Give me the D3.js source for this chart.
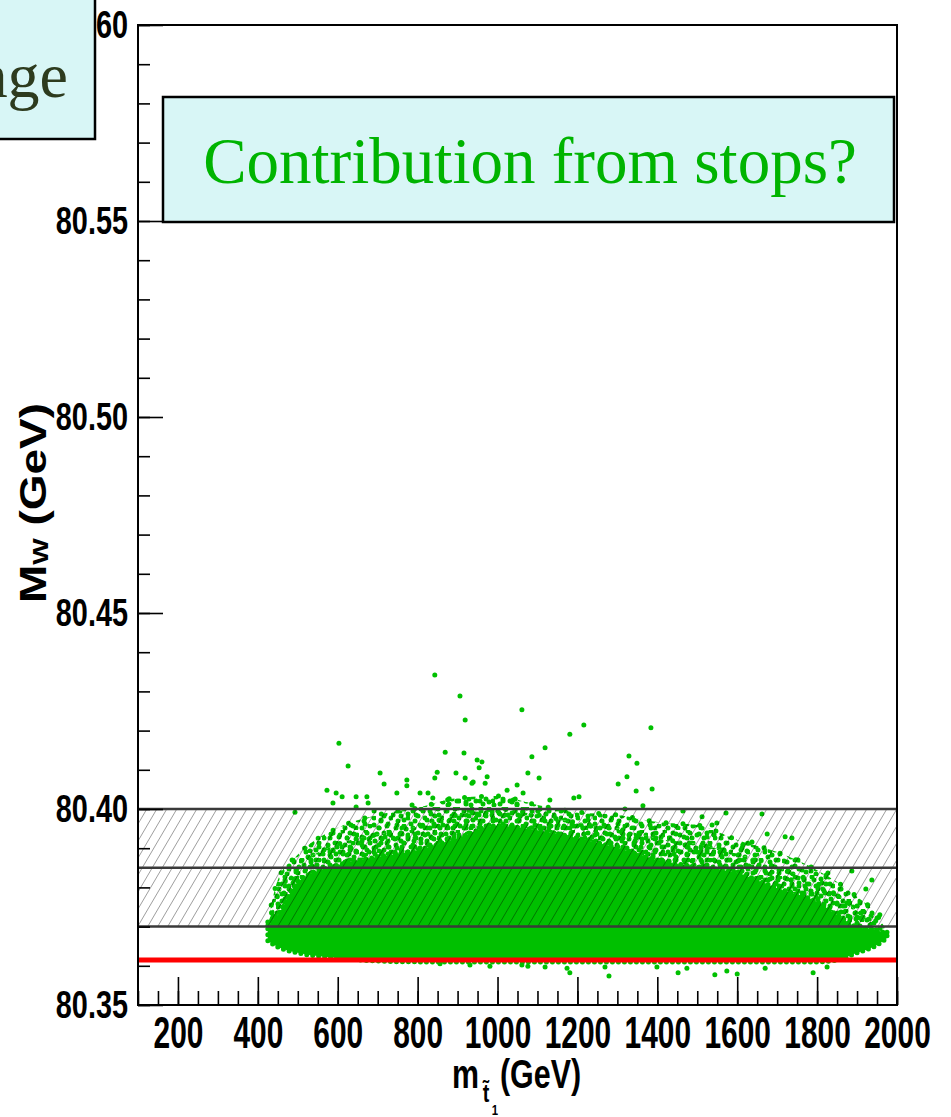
<!DOCTYPE html>
<html>
<head>
<meta charset="utf-8">
<script src="https://cdn.jsdelivr.net/npm/d3@7"></script>
<style>
  body { margin: 0; background: #fff; }
  svg { display: block; }
</style>
</head>
<body>
<svg id="chart" width="951" height="1117"></svg>
<script>
// envelope of the dense point cloud (stop mass in GeV, M_W in GeV)
const envMass  = [425, 450, 500, 600, 700, 800, 900, 1000, 1100, 1200, 1300, 1400, 1500, 1600, 1700, 1800, 1850, 1900, 1950, 1975];
const coreLow  = [80.3663, 80.3648, 80.3633, 80.3620, 80.3612, 80.3610, 80.3610, 80.3610, 80.3610, 80.3610, 80.3610, 80.3610, 80.3610, 80.3610, 80.3610, 80.3610, 80.3615, 80.3633, 80.3653, 80.3671];
const coreHigh = [80.3702, 80.3730, 80.3814, 80.3857, 80.3878, 80.3895, 80.3926, 80.3957, 80.3946, 80.3926, 80.3901, 80.3870, 80.3852, 80.3837, 80.3798, 80.3763, 80.3730, 80.3699, 80.3691, 80.3681];
const haloMid  = [80.3706, 80.3780, 80.3850, 80.3910, 80.3935, 80.3955, 80.3985, 80.4000, 80.3985, 80.3965, 80.3950, 80.3925, 80.3910, 80.3885, 80.3850, 80.3810, 80.3780, 80.3740, 80.3712, 80.3684];
const haloHigh = [80.3712, 80.3819, 80.3883, 80.3952, 80.3985, 80.4003, 80.4028, 80.4033, 80.4010, 80.3992, 80.3985, 80.3967, 80.3959, 80.3921, 80.3890, 80.3844, 80.3814, 80.3776, 80.3730, 80.3686];

// isolated points above the cloud
const outMass = [843, 906, 919, 1061, 1216, 1181, 1384, 1119, 1086, 869, 916, 949, 961, 954, 1329, 1349, 1324, 1347, 1387, 1302,
                 1104, 1076, 1049, 843, 896, 919, 974, 773, 748, 806, 706, 716, 1191, 1204, 1131, 603, 626, 573, 596, 588,
                 611, 646, 673, 676, 773, 826, 849, 936, 879, 786, 838, 493, 646, 691, 1064, 1039, 969, 939, 1024, 1512,
                 1572, 1662, 1537, 1549, 1542, 1614, 1637, 1675, 1720, 1737, 1752, 1827, 1887, 1937, 1922, 1957, 1364, 1464, 1319];
const outMW   = [80.4342, 80.4288, 80.4227, 80.4253, 80.4214, 80.4191, 80.4207, 80.4156, 80.4133, 80.4145, 80.4143, 80.4125, 80.4120, 80.4105, 80.4135, 80.4117, 80.4082, 80.4046, 80.4051, 80.4064,
                 80.4079, 80.4092, 80.4061, 80.4079, 80.4092, 80.4079, 80.4082, 80.4074, 80.4041, 80.4041, 80.4092, 80.4064, 80.4028, 80.4031, 80.4023, 80.4168, 80.4110, 80.4048, 80.4041, 80.4015,
                 80.4031, 80.4031, 80.4031, 80.4015, 80.4059, 80.4041, 80.4094, 80.4066, 80.4026, 80.4010, 80.4028, 80.3992, 80.4005, 80.3995, 80.4041, 80.4023, 80.4066, 80.4069, 80.4048, 80.3980,
                 80.3990, 80.3987, 80.3959, 80.3964, 80.3934, 80.3908, 80.3916, 80.3936, 80.3929, 80.3926, 80.3870, 80.3837, 80.3842, 80.3819, 80.3796, 80.3730, 80.4008, 80.3995, 80.4000];

// isolated points below the SM line
const lowMass = [1061, 1076, 1119, 1174, 1181, 1279, 1269, 1399, 1452, 1474, 1544, 1574, 1600, 1670, 1790, 1825, 981, 931, 856];
const lowMW   = [80.3602, 80.3599, 80.3597, 80.3594, 80.3582, 80.3574, 80.3597, 80.3597, 80.3582, 80.3594, 80.3577, 80.3587, 80.3579, 80.3594, 80.3582, 80.3597, 80.3599, 80.3602, 80.3605];

const bandLines = [80.370, 80.385, 80.400];
const bandLow = 80.370, bandHigh = 80.400;
const smValue = 80.3615;

const xMajor = [200, 400, 600, 800, 1000, 1200, 1400, 1600, 1800, 2000];
const yMajor = [80.35, 80.40, 80.45, 80.50, 80.55, 80.60];

const green = "#00c000";
const svg = d3.select("#chart");
const margin = { top: 25, left: 138, right: 54, bottom: 112 };
const width = 951 - margin.left - margin.right;
const height = 1117 - margin.top - margin.bottom;

const x = d3.scaleLinear().domain([100, 2000]).range([0, width]);
const y = d3.scaleLinear().domain([80.35, 80.60]).range([height, 0]);

const defs = svg.append("defs");
defs.append("clipPath").attr("id", "plotClip")
  .append("rect").attr("width", width).attr("height", height);

const hatch = defs.append("pattern").attr("id", "hatch")
  .attr("patternUnits", "userSpaceOnUse").attr("width", 10).attr("height", 17);
hatch.append("path")
  .attr("d", "M-5,8.5L5,-8.5M0,17L10,0M5,25.5L15,8.5")
  .attr("stroke", "rgba(0,0,0,0.38)").attr("stroke-width", 1);

// speckle textures for the medium density part of the cloud
function speckle(id, size, dots) {
  const p = defs.append("pattern").attr("id", id)
    .attr("patternUnits", "userSpaceOnUse").attr("width", size).attr("height", size);
  dots.forEach(d => p.append("circle").attr("cx", d[0]).attr("cy", d[1]).attr("r", 2.5).attr("fill", green));
}
speckle("speckA", 17, [[3, 4], [11, 2], [8, 9], [15, 11], [5, 14]]);
speckle("speckB", 23, [[2, 8], [9, 4], [17, 7], [13, 13], [6, 18], [20, 17], [21, 1], [11, 21]]);
speckle("speckC", 13, [[4, 3], [10, 8], [3, 10]]);

const g = svg.append("g").attr("transform", `translate(${margin.left},${margin.top})`);
const plot = g.append("g").attr("clip-path", "url(#plotClip)");

const idx = envMass.map((d, i) => i);
const band = (lo, hi) => d3.area().curve(d3.curveMonotoneX)
  .x(i => x(envMass[i])).y0(i => y(lo[i])).y1(i => y(hi[i]));
const outerHalo = band(haloMid, haloHigh);
const innerHalo = band(coreHigh, haloMid);
const coreArea = band(coreLow, coreHigh);

["speckA", "speckB"].forEach(id =>
  plot.append("path").datum(idx).attr("d", outerHalo).attr("fill", `url(#${id})`));
["speckA", "speckB", "speckC"].forEach(id =>
  plot.append("path").datum(idx).attr("d", innerHalo).attr("fill", `url(#${id})`));
plot.append("path").datum(idx).attr("d", outerHalo).attr("fill", "none")
  .attr("stroke", green).attr("stroke-width", 5).attr("stroke-linecap", "round")
  .attr("stroke-dasharray", "0 17");
plot.append("path").datum(idx).attr("d", coreArea).attr("fill", green)
  .attr("stroke", green).attr("stroke-width", 5).attr("stroke-linecap", "round")
  .attr("stroke-dasharray", "0 6");

plot.selectAll(".out").data(outMass).enter().append("circle")
  .attr("class", "out")
  .attr("cx", d => x(d)).attr("cy", (d, i) => y(outMW[i]))
  .attr("r", 2.5).attr("fill", green);
plot.selectAll(".low").data(lowMass).enter().append("circle")
  .attr("class", "low")
  .attr("cx", d => x(d)).attr("cy", (d, i) => y(lowMW[i]))
  .attr("r", 2.5).attr("fill", green);

// experimental band
plot.append("rect")
  .attr("x", 0).attr("width", width)
  .attr("y", y(bandHigh)).attr("height", y(bandLow) - y(bandHigh))
  .attr("fill", "url(#hatch)");
plot.selectAll(".band").data(bandLines).enter().append("line")
  .attr("x1", 0).attr("x2", width)
  .attr("y1", d => y(d)).attr("y2", d => y(d))
  .attr("stroke", "#3a3a3a").attr("stroke-width", 2.5);

plot.append("line")
  .attr("x1", 0).attr("x2", width)
  .attr("y1", y(smValue)).attr("y2", y(smValue))
  .attr("stroke", "#ff0000").attr("stroke-width", 5);

// axes
const labelFont = "'Liberation Sans', Arial, Helvetica, sans-serif";

const gyMinor = g.append("g").call(d3.axisLeft(y)
  .tickValues(d3.range(80.35, 80.6001, 0.01)).tickSize(-12).tickFormat(""));
const gy = g.append("g").call(d3.axisLeft(y)
  .tickValues(yMajor).tickSize(-25).tickPadding(10).tickFormat(d3.format(".2f")));
const gxMinor = g.append("g").attr("transform", `translate(0,${height})`)
  .call(d3.axisBottom(x).tickValues(d3.range(100, 2001, 50)).tickSize(-14).tickFormat(""));
const gx = g.append("g").attr("transform", `translate(0,${height})`)
  .call(d3.axisBottom(x).tickValues(xMajor).tickSize(-28).tickPadding(12).tickFormat(d3.format("d")));

[gyMinor, gy, gxMinor, gx].forEach(a => {
  a.select(".domain").remove();
  a.selectAll(".tick line").attr("stroke", "#000").attr("stroke-width", 1.6);
});
gy.selectAll("text")
  .attr("x", -10 / 0.76)
  .attr("transform", "scale(0.76,1)")
  .style("font-family", labelFont).style("font-weight", "bold")
  .style("font-size", "38px").attr("fill", "#000");
gx.selectAll("text")
  .attr("transform", "scale(0.68,1)")
  .style("font-family", labelFont).style("font-weight", "bold")
  .style("font-size", "44px").attr("fill", "#000");

g.append("rect").attr("width", width).attr("height", height)
  .attr("fill", "none").attr("stroke", "#000").attr("stroke-width", 2);

// axis titles
const yTitle = svg.append("text")
  .attr("transform", "translate(46,503) rotate(-90) scale(1,0.82)")
  .attr("text-anchor", "middle")
  .style("font-family", labelFont).style("font-weight", "bold").style("font-size", "46px");
yTitle.append("tspan").text("M");
yTitle.append("tspan").attr("dy", 3).style("font-size", "28px").text("W");
yTitle.append("tspan").attr("dy", -3).text(" (GeV)");

const xt = svg.append("g").style("font-family", labelFont).style("font-weight", "bold");
xt.append("text").attr("transform", "translate(452,1088) scale(0.76,1)")
  .style("font-size", "40px").text("m");
xt.append("text").attr("transform", "translate(486,1102) scale(0.76,1)")
  .attr("text-anchor", "middle").style("font-size", "26px").text("t\u0303");
xt.append("text").attr("transform", "translate(495,1115) scale(0.76,1)")
  .attr("text-anchor", "middle").style("font-size", "15px").text("1");
xt.append("text").attr("transform", "translate(500,1088) scale(0.76,1)")
  .style("font-size", "40px").text("(GeV)");

// slide overlays
svg.append("rect").attr("x", -10).attr("y", -10).attr("width", 105).attr("height", 149)
  .attr("fill", "#d8f6f6").attr("stroke", "#000").attr("stroke-width", 2.5);
svg.append("text").attr("x", 68).attr("y", 97).attr("text-anchor", "end")
  .style("font-family", "'Liberation Serif', 'Times New Roman', serif")
  .style("font-size", "64px").attr("fill", "#2d3b1e").text("age");

svg.append("rect").attr("x", 163).attr("y", 97).attr("width", 731).attr("height", 125)
  .attr("fill", "#d8f6f6").attr("stroke", "#000").attr("stroke-width", 2.5);
svg.append("text").attr("x", 530).attr("y", 183).attr("text-anchor", "middle")
  .style("font-family", "'Liberation Serif', 'Times New Roman', serif")
  .style("font-size", "65px").attr("fill", "#00b400").text("Contribution from stops?");
</script>
</body>
</html>
